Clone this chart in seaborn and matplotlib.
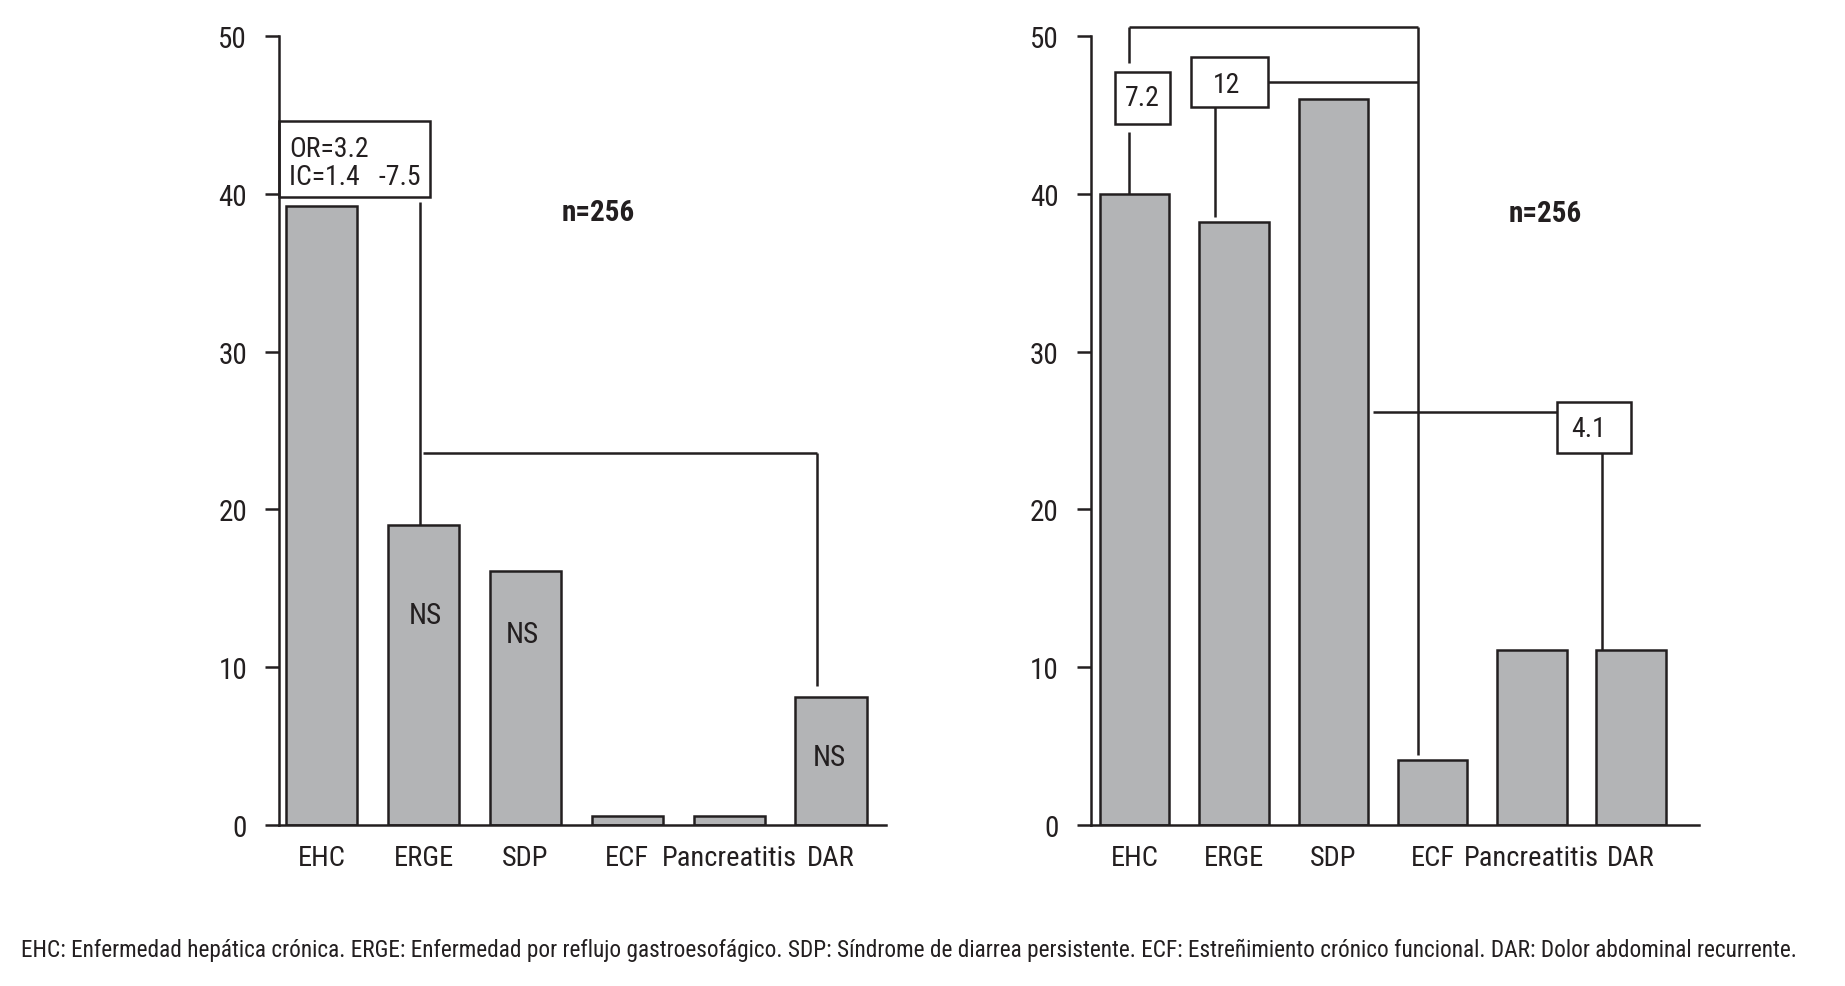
import matplotlib
matplotlib.use("Agg")
import matplotlib.pyplot as plt
from matplotlib import font_manager
from matplotlib.patches import Rectangle
import seaborn as sns
import pandas as pd

# ---------------- data ----------------
categories = ["EHC", "ERGE", "SDP", "ECF", "Pancreatitis", "DAR"]
left_values = [39.2, 19.0, 16.1, 0.6, 0.6, 8.1]
right_values = [40.0, 38.2, 46.0, 4.1, 11.1, 11.1]
y_ticks = [0, 10, 20, 30, 40, 50]
sample_label = "n=256"
left_box_lines = ["OR=3.2", "IC=1.4   -7.5"]
ns_label = "NS"
right_box_labels = ["7.2", "12", "4.1"]
footer = ("EHC: Enfermedad hepática crónica. ERGE: Enfermedad por reflujo gastroesofágico. "
          "SDP: Síndrome de diarrea persistente. ECF: Estreñimiento crónico funcional. "
          "DAR: Dolor abdominal recurrente.")

# ---------------- style ----------------
sns.set_theme(style="white")
available = {f.name for f in font_manager.fontManager.ttflist}
FONT = "DejaVu Sans"
for cand in ["Liberation Sans Narrow", "Roboto Condensed", "Open Sans Condensed",
             "DejaVu Sans Condensed", "Liberation Sans"]:
    if cand in available:
        FONT = cand
        break
plt.rcParams["font.family"] = [FONT, "DejaVu Sans"]

BAR = "#b3b4b6"
INK = "#231f20"
LW = 1.8
FS = 21

W, H = 1845, 987
fig = plt.figure(figsize=(W / 100, H / 100), dpi=100)
fig.patch.set_facecolor("white")


def px_axes(x0, x1, ytop, ybot):
    return fig.add_axes([x0 / W, (H - ybot) / H, (x1 - x0) / W, (ybot - ytop) / H])


axL = px_axes(279, 886, 37, 826)
axR = px_axes(1090.7, 1698.7, 37, 826)


def draw_bars(ax, values, xlim):
    df = pd.DataFrame({"cat": categories, "val": values})
    sns.barplot(data=df, x="cat", y="val", ax=ax, color=BAR, saturation=1,
                edgecolor=INK, linewidth=LW, width=0.7, zorder=2)
    ax.set_xlim(*xlim)
    ax.set_ylim(0, 50)
    ax.set_yticks(y_ticks)
    ax.set_xlabel("")
    ax.set_ylabel("")
    ax.set_facecolor("white")
    sns.despine(ax=ax)
    for s in ("left", "bottom"):
        ax.spines[s].set_linewidth(LW)
        ax.spines[s].set_color(INK)
        ax.spines[s].set_zorder(4)
    ax.tick_params(axis="y", direction="out", length=10, width=LW, color=INK,
                   pad=13, labelsize=FS, labelcolor=INK, left=True)
    ax.tick_params(axis="x", length=0, pad=14, labelsize=20.5, labelcolor=INK)


draw_bars(axL, left_values, (-0.42, 5.54))
draw_bars(axR, right_values, (-0.443, 5.68))


def seg(ax, xs, ys):
    ax.plot(xs, ys, color=INK, lw=LW, clip_on=False, zorder=3,
            solid_capstyle="butt")


def box(ax, x0, x1, y0, y1):
    ax.add_patch(Rectangle((x0, y0), x1 - x0, y1 - y0, facecolor="white",
                           edgecolor=INK, lw=LW, clip_on=False, zorder=3))


# ---------------- left annotations ----------------
box(axL, -0.42, 1.063, 39.8, 44.6)
axL.text(-0.322, 42.4, left_box_lines[0], ha="left", va="baseline",
         fontsize=20, color=INK, zorder=5)
axL.text(-0.322, 40.6, left_box_lines[1], ha="left", va="baseline",
         fontsize=20, color=INK, zorder=5)
seg(axL, [0.962, 0.962], [39.5, left_values[1]])
seg(axL, [0.995, 4.862], [23.6, 23.6])
seg(axL, [4.862, 4.862], [23.6, 8.78])
axL.text(2.713, 38.85, sample_label, ha="center", va="center", fontsize=FS,
         fontweight="bold", color=INK)
axL.text(1.02, 13.3, ns_label, ha="center", va="center", fontsize=FS, color=INK, zorder=5)
axL.text(1.967, 12.1, ns_label, ha="center", va="center", fontsize=FS, color=INK, zorder=5)
axL.text(4.983, 4.3, ns_label, ha="center", va="center", fontsize=FS, color=INK, zorder=5)

# ---------------- right annotations ----------------
seg(axR, [-0.057, 2.856], [50.6, 50.6])
seg(axR, [-0.057, -0.057], [50.6, 48.27])
box(axR, -0.201, 0.356, 44.4, 47.7)
seg(axR, [-0.057, -0.057], [43.9, right_values[0]])
seg(axR, [2.856, 2.856], [50.6, 4.44])
box(axR, 0.564, 1.345, 45.5, 48.7)
seg(axR, [1.345, 2.856], [47.1, 47.1])
seg(axR, [0.809, 0.809], [45.5, 38.55])
seg(axR, [2.403, 4.255], [26.2, 26.2])
box(axR, 4.255, 5.0, 23.6, 26.8)
seg(axR, [4.709, 4.709], [23.6, right_values[5]])
axR.text(0.081, 46.1, right_box_labels[0], ha="center", va="center",
         fontsize=20, color=INK, zorder=5)
axR.text(0.927, 46.9, right_box_labels[1], ha="center", va="center",
         fontsize=20, color=INK, zorder=5)
axR.text(4.575, 25.1, right_box_labels[2], ha="center", va="center",
         fontsize=20, color=INK, zorder=5)
axR.text(4.137, 38.8, sample_label, ha="center", va="center", fontsize=FS,
         fontweight="bold", color=INK)

# ---------------- footer ----------------
ft = fig.text(21 / W, (H - 950) / H, footer, ha="left", va="center",
              fontsize=16, color=INK)
fig.canvas.draw()
bb = ft.get_window_extent(renderer=fig.canvas.get_renderer())
ft.set_fontsize(16 * 1783 / bb.width)

fig.savefig("out.png", dpi=100, facecolor="white")
